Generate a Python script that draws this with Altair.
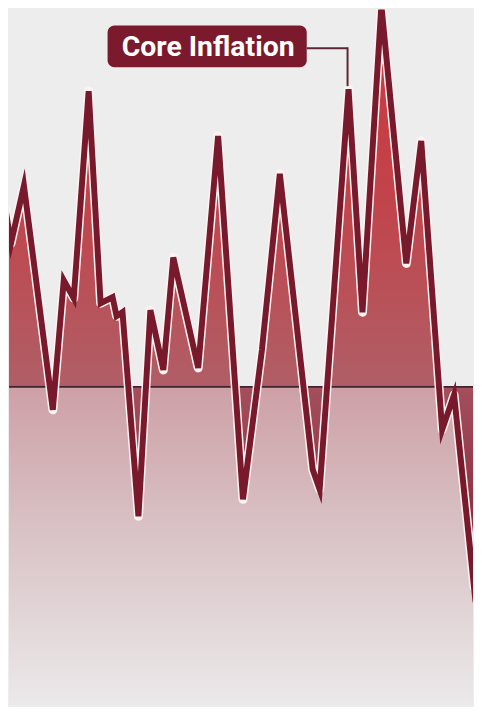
import altair as alt
import pandas as pd

# Core inflation series (period index, % deviation from trend)
period = [0, 2.07, 4.77, 10.79, 13.07, 15.15, 18.26, 20.75, 23.24, 24.07, 25.31,
          28.63, 31.12, 33.82, 35.89, 41.08, 45.23, 50.41, 54.36, 58.09, 64.94,
          66.39, 72.41, 75.31, 79.25, 84.44, 87.55, 91.91, 94.40, 98.55, 100]
inflation = [2.07, 1.44, 2.02, -0.23, 1.07, 0.89, 2.97, 0.84, 0.90, 0.71, 0.75,
             -1.30, 0.77, 0.17, 1.30, 0.19, 2.52, -1.13, 0.37, 2.14, -0.83,
             -1.03, 2.99, 0.75, 3.83, 1.24, 2.47, -0.43, -0.08, -2.01, -1.76]
label_text = "Core Inflation"
label_index = 22

W, H = 466, 699
df = pd.DataFrame({"period": period, "inflation": inflation})
ann = pd.DataFrame({"period": [period[label_index]],
                    "inflation": [inflation[label_index]],
                    "label": [label_text]})

xs = alt.Scale(domain=[1.66, 98.34], nice=False, zero=False)
ys = alt.Scale(domain=[-3.20, 3.79], nice=False, zero=False)
X = alt.X("period:Q", scale=xs, axis=None)
Y = alt.Y("inflation:Q", scale=ys, axis=None)

vmax, vmin = max(inflation), min(inflation)
z = vmax / (vmax - vmin)

area_grad = alt.Gradient(
    gradient="linear", x1=0, y1=0, x2=0, y2=1,
    stops=[
        alt.GradientStop(color="#cc383d", offset=0),
        alt.GradientStop(color="#c2434a", offset=z * 0.5),
        alt.GradientStop(color="#b05e66", offset=z - 0.005),
        alt.GradientStop(color="#a44e5c", offset=z + 0.005),
        alt.GradientStop(color="#7c2034", offset=1),
    ],
)
bg_grad = alt.Gradient(
    gradient="linear", x1=0, y1=0, x2=0, y2=1,
    stops=[
        alt.GradientStop(color="#cda0a6", offset=0),
        alt.GradientStop(color="#d9c2c5", offset=0.45),
        alt.GradientStop(color="#ebe9ea", offset=1),
    ],
)

base = alt.Chart(df)

below = alt.Chart(ann).mark_rect(fill=bg_grad, clip=True).encode(
    x=alt.value(0), x2=alt.value(W),
    y=alt.Y(datum=0, scale=ys, axis=None), y2=alt.value(H),
)

area = base.mark_area(fill=area_grad, clip=True).encode(
    x=X, y=Y, y2=alt.Y2(datum=0)
)

zero_rule = alt.Chart(ann).mark_rule(color="#3d2430", strokeWidth=2).encode(
    x=alt.value(0), x2=alt.value(W), y=alt.Y(datum=0, scale=ys, axis=None)
)

halo = base.mark_line(color="#fff2f2", strokeWidth=9, strokeJoin="round",
                      clip=True).encode(x=X, y=Y)
line = base.mark_line(color="#781a2c", strokeWidth=6, strokeJoin="miter",
                      strokeMiterLimit=6, clip=True).encode(x=X, y=Y)

ann_base = alt.Chart(ann)
conn_h = ann_base.mark_rule(color="#5e2634", strokeWidth=2,
                            xOffset=-42, x2Offset=-1, yOffset=-41).encode(
    x=X, x2="period:Q", y=Y)
conn_v = ann_base.mark_rule(color="#5e2634", strokeWidth=2,
                            xOffset=-1, yOffset=-42, y2Offset=-3).encode(
    x=X, y=Y, y2="inflation:Q")
box = ann_base.mark_rect(color="#7a1a2c", cornerRadius=7,
                         xOffset=-242, x2Offset=-42,
                         yOffset=-64, y2Offset=-22).encode(
    x=X, x2="period:Q", y=Y, y2="inflation:Q")
txt = ann_base.mark_text(color="#ffffff", font="Roboto", fontSize=28.5,
                         fontWeight="bold", align="center", baseline="middle",
                         dx=-141, dy=-42).encode(x=X, y=Y, text="label:N")

chart = alt.layer(below, area, zero_rule, halo, line, conn_h, conn_v, box, txt).properties(
    width=W, height=H, padding=0, background="#eeedee"
).configure_view(strokeWidth=0)

chart.save("out.html", embed_options={"renderer": "svg", "actions": False})
